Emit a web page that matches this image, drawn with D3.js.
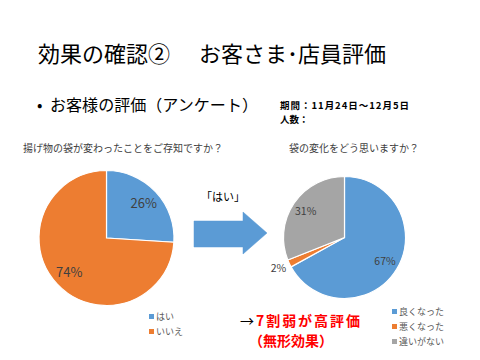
<!DOCTYPE html>
<html><head><meta charset="utf-8">
<script src="https://cdn.jsdelivr.net/npm/d3@7/dist/d3.min.js"></script>
<style>body{margin:0;background:#fff}svg{display:block}text{font-family:"Noto Sans CJK JP","Noto Sans",sans-serif}</style>
</head><body>
<script>
const leftCategories = ["はい", "いいえ"];
const leftValues = [26, 74];
const rightCategories = ["良くなった", "悪くなった", "違いがない"];
const rightValues = [67, 2, 31];
const colors = ["#5B9BD5", "#ED7D31", "#A5A5A5"];

const svg = d3.select("body").append("svg").attr("width", 480).attr("height", 360);

svg.append("text").attr("x", 38).attr("y", 62).attr("font-size", 22).attr("fill", "#000")
  .text("効果の確認②");
svg.append("text").attr("x", 199).attr("y", 62).attr("font-size", 22).attr("fill", "#000")
  .text("お客さま･店員評価");
svg.append("text").attr("x", 37).attr("y", 111).attr("font-size", 16).attr("fill", "#000")
  .text("•");
svg.append("text").attr("x", 50).attr("y", 111).attr("font-size", 16).attr("fill", "#000")
  .attr("textLength", 208).attr("lengthAdjust", "spacingAndGlyphs")
  .text("お客様の評価（アンケート）");
svg.append("text").attr("x", 280).attr("y", 109).attr("font-size", 9.5).attr("font-weight", "bold").attr("fill", "#000")
  .attr("textLength", 129).attr("lengthAdjust", "spacing")
  .text("期間：11月24日～12月5日");
svg.append("text").attr("x", 280).attr("y", 123).attr("font-size", 9.5).attr("font-weight", "bold").attr("fill", "#000")
  .text("人数：");

function drawPie(cx, cy, r, cats, vals, labelR, title, tx, ty, fs) {
  const g = svg.append("g").attr("transform", `translate(${cx},${cy})`);
  const pie = d3.pie().sort(null).value(d => d)(vals);
  const arc = d3.arc().innerRadius(0).outerRadius(r);
  g.selectAll("path").data(pie).join("path")
    .attr("d", arc).attr("fill", (d, i) => colors[i])
    .attr("stroke", "#fff").attr("stroke-width", 1.2);
  g.selectAll("text.lbl").data(pie).join("text").attr("class", "lbl")
    .attr("transform", d => {
      const rr = (d.endAngle - d.startAngle) < 0.3 ? r + 12 : labelR;
      const a = (d.startAngle + d.endAngle) / 2;
      return `translate(${rr * Math.sin(a)},${-rr * Math.cos(a) + fs * 0.35})`;
    })
    .attr("text-anchor", "middle").attr("font-size", fs).attr("fill", "#404040")
    .text(d => d.data + "%");
  svg.append("text").attr("x", tx).attr("y", ty).attr("font-size", 10).attr("fill", "#404040").text(title);
}

drawPie(106.5, 238, 67.5, leftCategories, leftValues, 51, "揚げ物の袋が変わったことをご存知ですか？", 23, 152, 13);
drawPie(344.5, 237.5, 61, rightCategories, rightValues, 47, "袋の変化をどう思いますか？", 289, 152, 10.5);

function legend(x, y0, dy, cats) {
  cats.forEach((c, i) => {
    svg.append("rect").attr("x", x).attr("y", y0 + i * dy - 3).attr("width", 5).attr("height", 5).attr("fill", colors[i]);
    svg.append("text").attr("x", x + 7).attr("y", y0 + i * dy + 3).attr("font-size", 9).attr("fill", "#595959").text(c);
  });
}
legend(149, 317, 15, leftCategories);
legend(392, 312, 15, rightCategories);

// Block arrow
svg.append("path")
  .attr("d", "M194,221 L243,221 L243,212 L267,233 L243,254 L243,247 L194,247 Z")
  .attr("fill", "#5B9BD5").attr("stroke", "#5B9BD5").attr("stroke-width", 0.5);
svg.append("text").attr("x", 201).attr("y", 201).attr("font-size", 11).attr("fill", "#000").text("「はい」");

const t = svg.append("text").attr("x", 240).attr("y", 326).attr("font-size", 14).attr("font-weight", "bold")
  .attr("textLength", 120).attr("lengthAdjust", "spacing");
t.append("tspan").attr("fill", "#000").attr("font-weight", "normal").text("→");
t.append("tspan").attr("fill", "#FF0000").text("7割弱が高評価");
svg.append("text").attr("x", 249).attr("y", 346).attr("font-size", 14).attr("font-weight", "bold").attr("fill", "#FF0000")
  .text("（無形効果）");
</script>
</body></html>
